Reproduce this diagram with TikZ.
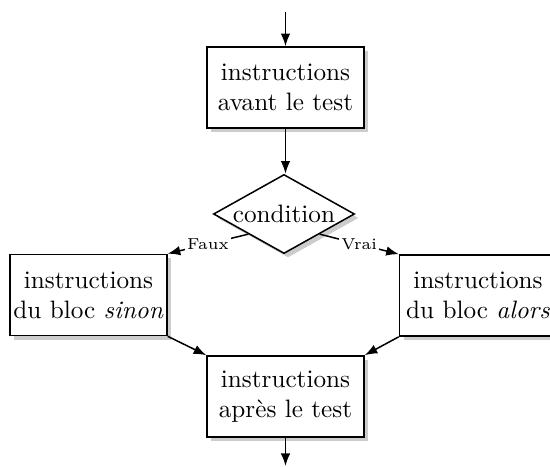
\documentclass[tikz,border=0pt]{standalone}
\usetikzlibrary{shapes.geometric,shadows,arrows.meta}
\begin{document}
\begin{tikzpicture}[x=0.397pt,y=-0.397pt,line width=0.6pt,
  arr/.style={-{Latex[length=5pt,width=3.8pt]}},
  shad/.style={drop shadow={shadow xshift=1.6pt,shadow yshift=-1.6pt,fill=black!20,opacity=1}},
  bloc/.style={draw,fill=white,shad,align=center,minimum width=62.3pt,minimum height=32.2pt,inner sep=1pt},
  test/.style={draw,fill=white,shad,diamond,aspect=1.78,inner sep=0pt,minimum width=56pt,minimum height=31.4pt},
  lab/.style={font=\fontsize{6.3}{7}\selectfont,fill=white,inner sep=0.8pt}]
\useasboundingbox (0,0) rectangle (550,467);
\coordinate (debut) at (285.5,12);
\coordinate (fin) at (285.5,466);
\node[bloc] (avant) at (285.5,87.5) {instructions\\avant le test};
\node[test] (cond) at (284,214) {condition};
\node[bloc] (sinon) at (88.5,295) {instructions\\du bloc \textit{sinon}};
\node[bloc] (alors) at (478,295.5) {instructions\\du bloc \textit{alors}};
\node[bloc] (apres) at (285.5,396.5) {instructions\\apr\`es le test};
\draw[arr] (debut) -- (avant);
\draw[arr] (avant.south) -- (avant.south |- cond.north);
\draw[arr] (cond.south west) -- node[lab] {Faux} (sinon.north east);
\draw[arr] (cond.south east) -- node[lab] {Vrai} (alors.north west);
\draw[arr] (sinon.south east) -- (apres.north west);
\draw[arr] (alors.south west) -- (apres.north east);
\draw[arr] (apres) -- (fin);
\end{tikzpicture}
\end{document}
